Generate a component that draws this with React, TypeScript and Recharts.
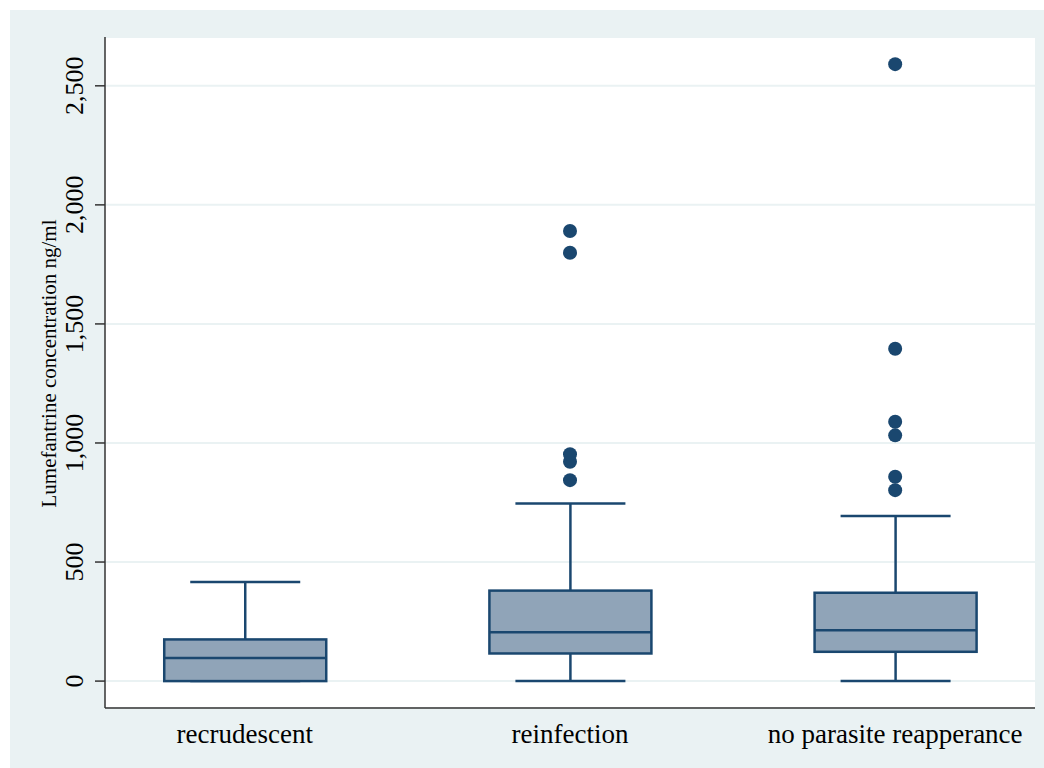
import React from 'react';
import { ComposedChart, Bar, Scatter, XAxis, YAxis, CartesianGrid } from 'recharts';

// five-number summaries per group
const categories = ['recrudescent', 'reinfection', 'no parasite reapperance'];
const minValues = [0, 0, 0];
const q1Values = [0, 116, 123];
const medianValues = [97, 205, 214];
const q3Values = [175, 380, 371];
const maxValues = [416, 746, 693];
const outlierValues = [
  [],
  [844, 921, 953, 1799, 1890],
  [802, 858, 1032, 1089, 1396, 2591],
];
const yTicks = [0, 500, 1000, 1500, 2000, 2500];

const NAVY = '#1A476F';
const BOX_FILL = '#90A4B8';
const AXIS = '#333333';
const GRID = '#EAF2F3';
const FONT = '"Liberation Serif", "Times New Roman", serif';

const boxData = categories.map((name, i) => ({
  name,
  pos: i,
  base: minValues[i],
  lower: q1Values[i] - minValues[i],
  box: q3Values[i] - q1Values[i],
  upper: maxValues[i] - q3Values[i],
  q1: q1Values[i],
  median: medianValues[i],
  q3: q3Values[i],
}));

const outlierData = outlierValues.flatMap((vals, i) => vals.map((value) => ({ pos: i, value })));

const CAP_RATIO = 110 / 162;

const LowerWhisker = (props: any) => {
  const { x, y, width, height } = props;
  const cx = x + width / 2;
  const cap = width * CAP_RATIO;
  const bottom = y + height;
  return (
    <g>
      <line x1={cx} x2={cx} y1={y} y2={bottom} stroke={NAVY} strokeWidth={2.5} />
      <line x1={cx - cap / 2} x2={cx + cap / 2} y1={bottom} y2={bottom} stroke={NAVY} strokeWidth={2.5} />
    </g>
  );
};

const UpperWhisker = (props: any) => {
  const { x, y, width, height } = props;
  const cx = x + width / 2;
  const cap = width * CAP_RATIO;
  return (
    <g>
      <line x1={cx} x2={cx} y1={y} y2={y + height} stroke={NAVY} strokeWidth={2.5} />
      <line x1={cx - cap / 2} x2={cx + cap / 2} y1={y} y2={y} stroke={NAVY} strokeWidth={2.5} />
    </g>
  );
};

const BoxShape = (props: any) => {
  const { x, y, width, height, payload } = props;
  const span = payload.q3 - payload.q1;
  const my = span > 0 ? y + (height * (payload.q3 - payload.median)) / span : y;
  return (
    <g>
      <rect x={x} y={y} width={width} height={height} fill={BOX_FILL} stroke={NAVY} strokeWidth={2.5} />
      <line x1={x} x2={x + width} y1={my} y2={my} stroke={NAVY} strokeWidth={2.5} />
    </g>
  );
};

const XTick = (props: any) => {
  const { x, y, payload } = props;
  return (
    <text x={x} y={y} textAnchor="middle" fontFamily={FONT} fontSize={27} fill="#000">
      {categories[payload.value]}
    </text>
  );
};

const YTick = (props: any) => {
  const { x, y, payload } = props;
  return (
    <text
      x={x}
      y={y}
      transform={`rotate(-90 ${x} ${y})`}
      textAnchor="middle"
      fontFamily={FONT}
      fontSize={26}
      fill="#000"
    >
      {Number(payload.value).toLocaleString('en-US')}
    </text>
  );
};

const YLabel = (props: any) => {
  const vb = props.viewBox || { x: 0, y: 27, width: 95, height: 671 };
  const lx = vb.x + 46;
  const ly = vb.y + vb.height / 2 - 9;
  return (
    <text
      x={lx}
      y={ly}
      transform={`rotate(-90 ${lx} ${ly})`}
      textAnchor="middle"
      fontFamily={FONT}
      fontSize={21}
      fill="#000"
    >
      Lumefantrine concentration ng/ml
    </text>
  );
};

export default function App() {
  return (
    <div style={{ position: 'absolute', left: 0, top: 0, width: 1044, height: 768, background: '#fff' }}>
      <div style={{ position: 'absolute', left: 10, top: 10, width: 1034, height: 758, background: GRID }}>
        <ComposedChart
          width={1034}
          height={758}
          data={boxData}
          margin={{ top: 27, right: 9, bottom: 0, left: 0 }}
        >
          <CartesianGrid vertical={false} stroke={GRID} strokeWidth={2} fill="#fff" />
          <XAxis
            type="number"
            dataKey="pos"
            domain={[-0.43, 2.43]}
            ticks={[0, 1, 2]}
            allowDataOverflow
            tickLine={false}
            tickSize={0}
            tickMargin={35}
            height={60}
            axisLine={{ stroke: AXIS, strokeWidth: 1.5 }}
            tick={<XTick />}
          />
          <YAxis
            type="number"
            domain={[-113, 2705]}
            ticks={yTicks}
            allowDataOverflow
            width={95}
            tickSize={10}
            tickMargin={12}
            axisLine={{ stroke: AXIS, strokeWidth: 1.5 }}
            tickLine={{ stroke: AXIS, strokeWidth: 1.5 }}
            tick={<YTick />}
            label={(p: any) => <YLabel {...p} />}
          />
          <Bar dataKey="base" stackId="b" barSize={162} fill="none" isAnimationActive={false} />
          <Bar dataKey="lower" stackId="b" barSize={162} shape={<LowerWhisker />} isAnimationActive={false} />
          <Bar dataKey="box" stackId="b" barSize={162} shape={<BoxShape />} isAnimationActive={false} />
          <Bar dataKey="upper" stackId="b" barSize={162} shape={<UpperWhisker />} isAnimationActive={false} />
          <Scatter
            data={outlierData}
            dataKey="value"
            fill={NAVY}
            isAnimationActive={false}
            shape={(p: any) => <circle cx={p.cx} cy={p.cy} r={7} fill={NAVY} />}
          />
        </ComposedChart>
      </div>
    </div>
  );
}
